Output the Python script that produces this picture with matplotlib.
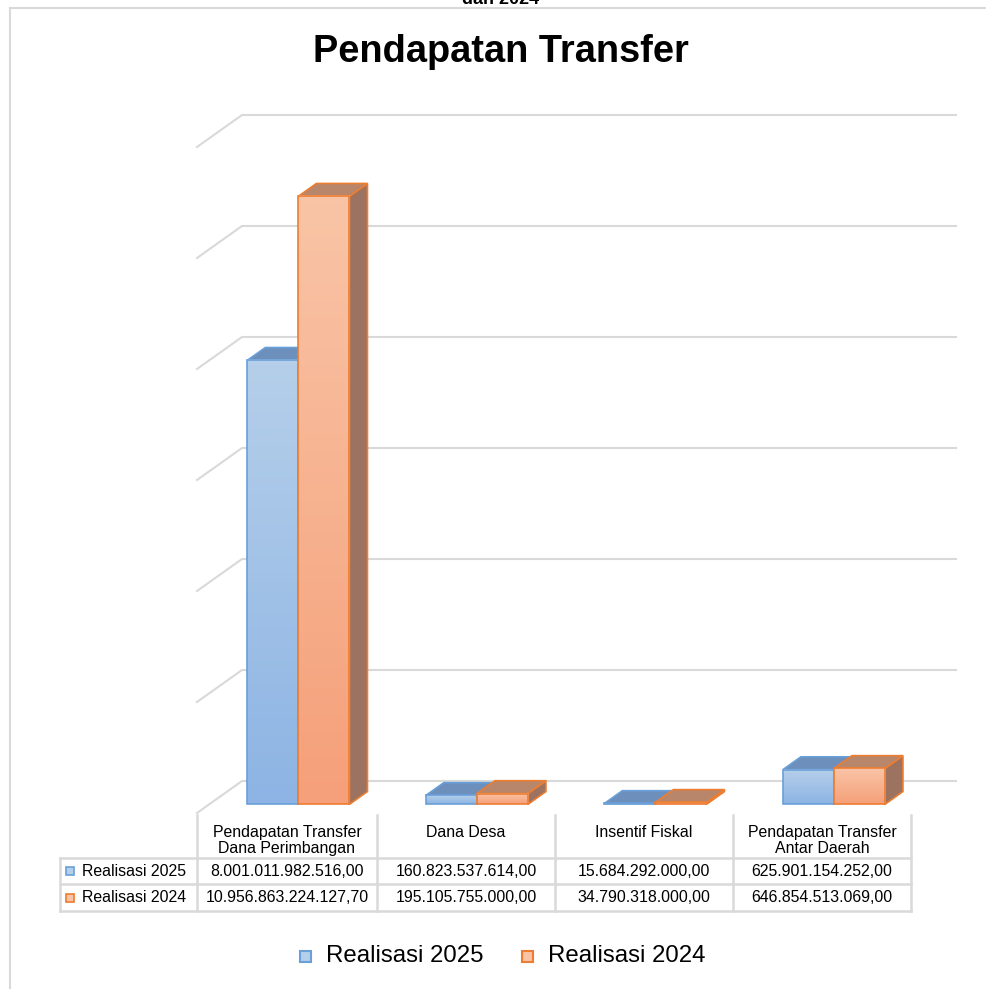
import matplotlib.pyplot as plt
import numpy as np
from matplotlib.colors import LinearSegmentedColormap
from matplotlib.patches import Polygon, Rectangle
from matplotlib.lines import Line2D

categories = ["Pendapatan Transfer\nDana Perimbangan", "Dana Desa", "Insentif Fiskal",
              "Pendapatan Transfer\nAntar Daerah"]
series_names = ["Realisasi 2025", "Realisasi 2024"]
realisasi_2025 = [8001011982516.00, 160823537614.00, 15684292000.00, 625901154252.00]
realisasi_2024 = [10956863224127.70, 195105755000.00, 34790318000.00, 646854513069.00]
gridlines = [0, 2e12, 4e12, 6e12, 8e12, 10e12, 12e12]

W, H = 987, 989
plt.rcParams["font.family"] = ["Liberation Sans", "DejaVu Sans"]
fig = plt.figure(figsize=(W / 100, H / 100), dpi=100)


def fx(x):
    return x / W


def fy(y):
    return 1 - y / H


# chart border (only top and left visible)
fig.add_artist(Line2D([fx(10), 1], [fy(8), fy(8)], color="#d9d9d9", lw=1.5))
fig.add_artist(Line2D([fx(10), fx(10)], [fy(8), 0], color="#d9d9d9", lw=1.5))

# leftover line of a heading above the chart, cut by the top edge as in the source
fig.text(0.507, fy(4), "dan 2024", ha="center", va="baseline", fontsize=13, fontweight="bold")
fig.text(0.508, fy(52), "Pendapatan Transfer", ha="center", va="center", fontsize=27.4,
         fontweight="bold")

# 3D-ish plot area
DX = 45 / 178.5        # depth offset in category units
DY = 32 / 55.5 * 1e12  # depth offset in value units
ax = fig.add_axes([fx(197), fy(813), (956 - 197) / W, (813 - 115) / H])
ax.set_axis_off()

grid_c = "#d9d9d9"
for g in gridlines:
    ax.plot([-0.5, -0.5 + DX, 3.5 + DX], [g, g + DY, g + DY], color=grid_c, lw=1.5,
            clip_on=False, zorder=1)

colors = {
    0: dict(top="#6d8fbc", side="#5f80ab", edge="#6a9fd8", g_top="#b5cfea", g_bot="#8db4e4"),
    1: dict(top="#b8866a", side="#9c7260", edge="#ed7d31", g_top="#f9c4a6", g_bot="#f5a07a"),
}
bw = 0.286
f_front = 0.27
f_depth = 0.4
z = 2
for i in range(len(categories)):
    for s, vals in enumerate([realisasi_2025, realisasi_2024]):
        v = vals[i]
        c = colors[s]
        x0 = i - bw + s * bw + f_front * DX
        x1 = x0 + bw
        y0 = f_front * DY
        y1 = y0 + v
        ddx, ddy = f_depth * DX, f_depth * DY
        side = Polygon([(x1, y0), (x1 + ddx, y0 + ddy), (x1 + ddx, y1 + ddy), (x1, y1)],
                       closed=True, fc=c["side"], ec=c["edge"], lw=1.2, zorder=z, clip_on=False)
        top = Polygon([(x0, y1), (x0 + ddx, y1 + ddy), (x1 + ddx, y1 + ddy), (x1, y1)],
                      closed=True, fc=c["top"], ec=c["edge"], lw=1.2, zorder=z + 1, clip_on=False)
        ax.add_patch(side)
        ax.add_patch(top)
        cmap = LinearSegmentedColormap.from_list("g", [c["g_bot"], c["g_top"]])
        grad = np.linspace(0, 1, 64).reshape(-1, 1)
        if v > 0:
            ax.imshow(grad, extent=[x0, x1, y0, y1], origin="lower", aspect="auto", cmap=cmap,
                      zorder=z + 2, clip_on=False, interpolation="bilinear")
        ax.add_patch(Rectangle((x0, y0), bw, v, fill=False, ec=c["edge"], lw=1.2,
                               zorder=z + 3, clip_on=False))
        z += 4

ax.set_xlim(-0.5, 3.5 + DX)
ax.set_ylim(0, 12e12 + DY)


# data table
def fmt(v):
    s = f"{v:,.2f}"
    return s.replace(",", "X").replace(".", ",").replace("X", ".")


col_edges = [197, 377, 555, 733, 911]
row_y = [815, 858, 884, 911]
tc = "#d9d9d9"
for x in col_edges:
    fig.add_artist(Line2D([fx(x), fx(x)], [fy(815), fy(911)], color=tc, lw=1.8))
fig.add_artist(Line2D([fx(60), fx(60)], [fy(858), fy(911)], color=tc, lw=1.8))
for y in row_y[1:]:
    fig.add_artist(Line2D([fx(60), fx(911)], [fy(y), fy(y)], color=tc, lw=1.8))

for i, cat in enumerate(categories):
    cx = (col_edges[i] + col_edges[i + 1]) / 2
    fig.text(fx(cx), fy(825), cat, ha="center", va="top", fontsize=11.4, linespacing=1.12)
    for r, vals in enumerate([realisasi_2025, realisasi_2024]):
        cy = (row_y[r + 1] + row_y[r + 2]) / 2
        fig.text(fx(cx), fy(cy), fmt(vals[i]), ha="center", va="center", fontsize=11.4)

for r, name in enumerate(series_names):
    cy = (row_y[r + 1] + row_y[r + 2]) / 2
    c = colors[r]
    fig.add_artist(Rectangle((fx(66), fy(cy + 4)), 8 / W, 8 / H, fc=c["g_top"], ec=c["edge"],
                             lw=1.2))
    fig.text(fx(82), fy(cy), name, ha="left", va="center", fontsize=11.4)

# legend
for s, name in enumerate(series_names):
    lx = [300, 522][s]
    c = colors[s]
    fig.add_artist(Rectangle((fx(lx), fy(962)), 11 / W, 11 / H, fc=c["g_top"], ec=c["edge"],
                             lw=1.5))
    fig.text(fx(lx + 26), fy(956), name, ha="left", va="center", fontsize=17.3)

fig.savefig("out.png", dpi=100)
